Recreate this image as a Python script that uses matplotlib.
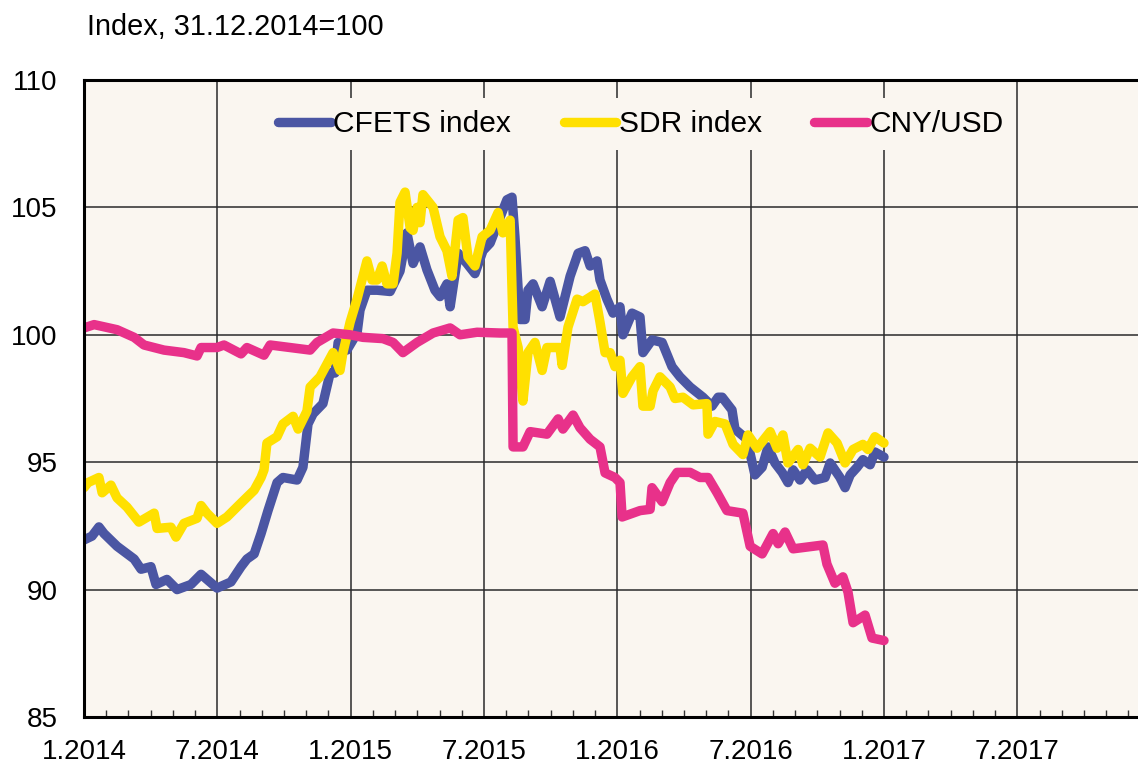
import matplotlib.pyplot as plt
import numpy as np

plt.rcParams['font.family'] = ['Liberation Sans', 'DejaVu Sans']

# time in decimal years, values index 31.12.2014=100
cfets_t = [2014.000, 2014.030, 2014.056, 2014.075, 2014.124, 2014.188, 2014.214, 2014.251,
           2014.270, 2014.311, 2014.349, 2014.401, 2014.439, 2014.461, 2014.499, 2014.551,
           2014.589, 2014.611, 2014.638, 2014.664, 2014.690, 2014.724, 2014.746, 2014.799,
           2014.821, 2014.840, 2014.859, 2014.896, 2014.923, 2014.941, 2014.953, 2014.986,
           2015.024, 2015.035, 2015.061, 2015.099, 2015.148, 2015.185, 2015.211, 2015.234,
           2015.260, 2015.286, 2015.316, 2015.335, 2015.361, 2015.373, 2015.403, 2015.436,
           2015.466, 2015.496, 2015.523, 2015.560, 2015.586, 2015.605, 2015.616, 2015.635,
           2015.654, 2015.665, 2015.684, 2015.718, 2015.748, 2015.785, 2015.823, 2015.853,
           2015.879, 2015.898, 2015.924, 2015.935, 2015.961, 2015.984, 2016.010, 2016.021,
           2016.055, 2016.085, 2016.096, 2016.130, 2016.168, 2016.205, 2016.235, 2016.273,
           2016.321, 2016.355, 2016.378, 2016.393, 2016.430, 2016.441, 2016.486, 2016.516,
           2016.543, 2016.565, 2016.591, 2016.618, 2016.640, 2016.659, 2016.685, 2016.711,
           2016.741, 2016.779, 2016.798, 2016.835, 2016.854, 2016.873, 2016.899, 2016.921,
           2016.948, 2016.966, 2017.000]
cfets_v = [91.95, 92.1, 92.46, 92.2, 91.7, 91.2, 90.8, 90.9,
           90.2, 90.4, 90.0, 90.2, 90.6, 90.4, 90.06, 90.3,
           90.9, 91.2, 91.4, 92.2, 93.1, 94.2, 94.4, 94.3,
           94.8, 96.5, 96.9, 97.3, 98.5, 98.5, 99.7, 99.4,
           100.07, 100.97, 101.75, 101.75, 101.7, 102.5, 104.0, 102.8,
           103.45, 102.55, 101.75, 101.5, 102.0, 101.1, 103.2, 102.8,
           102.4, 103.3, 103.6, 104.6, 105.3, 105.4, 103.85, 100.6,
           100.6, 101.75, 102.0, 101.1, 102.1, 100.7, 102.3, 103.2,
           103.3, 102.7, 102.9, 102.15, 101.4, 100.85, 101.1, 100.0,
           100.85, 100.7, 99.3, 99.8, 99.7, 98.75, 98.35, 97.95,
           97.55, 97.2, 97.55, 97.55, 97.05, 96.3, 95.9, 94.5,
           94.8, 95.6, 94.97, 94.6, 94.2, 94.7, 94.3, 94.7,
           94.3, 94.4, 94.97, 94.4, 94.0, 94.5, 94.8, 95.1,
           94.9, 95.4, 95.2]

sdr_t = [2014.000, 2014.015, 2014.056, 2014.068, 2014.101, 2014.124, 2014.161, 2014.206,
         2014.263, 2014.274, 2014.326, 2014.345, 2014.375, 2014.424, 2014.439, 2014.461,
         2014.499, 2014.536, 2014.589, 2014.638, 2014.664, 2014.675, 2014.686, 2014.724,
         2014.746, 2014.784, 2014.803, 2014.836, 2014.848, 2014.885, 2014.934, 2014.960,
         2014.971, 2014.998, 2015.024, 2015.061, 2015.080, 2015.099, 2015.118, 2015.136,
         2015.159, 2015.174, 2015.185, 2015.204, 2015.223, 2015.234, 2015.249, 2015.260,
         2015.271, 2015.309, 2015.335, 2015.361, 2015.380, 2015.403, 2015.421, 2015.440,
         2015.466, 2015.493, 2015.523, 2015.553, 2015.571, 2015.598, 2015.609, 2015.628,
         2015.646, 2015.665, 2015.691, 2015.718, 2015.736, 2015.785, 2015.793, 2015.815,
         2015.849, 2015.871, 2015.916, 2015.935, 2015.954, 2015.973, 2015.991, 2016.010,
         2016.021, 2016.055, 2016.085, 2016.096, 2016.123, 2016.134, 2016.160, 2016.198,
         2016.216, 2016.246, 2016.284, 2016.336, 2016.340, 2016.366, 2016.404, 2016.434,
         2016.471, 2016.490, 2016.524, 2016.573, 2016.599, 2016.621, 2016.640, 2016.678,
         2016.696, 2016.723, 2016.760, 2016.790, 2016.824, 2016.854, 2016.884, 2016.921,
         2016.940, 2016.966, 2017.000]
sdr_v = [94.0, 94.2, 94.4, 93.8, 94.1, 93.6, 93.24, 92.65,
         93.0, 92.4, 92.45, 92.06, 92.6, 92.8, 93.3, 93.0,
         92.6, 92.85, 93.4, 93.9, 94.4, 94.7, 95.75, 96.0,
         96.5, 96.8, 96.3, 97.0, 97.95, 98.35, 99.3, 98.6,
         99.3, 100.5, 101.4, 102.9, 102.15, 102.15, 102.7, 102.0,
         102.0, 103.2, 105.2, 105.6, 104.2, 104.1, 105.0, 104.4,
         105.5, 105.0, 103.85, 103.3, 102.3, 104.5, 104.6, 103.05,
         102.7, 103.85, 104.1, 104.8, 104.0, 104.5, 100.3, 99.5,
         97.4, 99.3, 99.7, 98.6, 99.5, 99.5, 98.8, 100.3,
         101.4, 101.3, 101.6, 100.5, 99.3, 99.3, 98.75, 99.0,
         97.7, 98.35, 98.75, 97.2, 97.2, 97.8, 98.35, 97.95,
         97.5, 97.55, 97.25, 97.3, 96.1, 96.6, 96.5, 95.7,
         95.3, 96.07, 95.55, 96.2, 95.55, 96.07, 94.97, 95.5,
         94.9, 95.55, 95.2, 96.15, 95.75, 94.97, 95.5, 95.7,
         95.5, 96.0, 95.75]

cny_t = [2014.000, 2014.038, 2014.124, 2014.188, 2014.225, 2014.300, 2014.375, 2014.424,
         2014.439, 2014.499, 2014.525, 2014.589, 2014.611, 2014.675, 2014.698, 2014.773,
         2014.848, 2014.874, 2014.934, 2014.998, 2015.046, 2015.121, 2015.159, 2015.196,
         2015.249, 2015.309, 2015.373, 2015.410, 2015.474, 2015.560, 2015.605, 2015.609,
         2015.646, 2015.673, 2015.736, 2015.778, 2015.796, 2015.834, 2015.860, 2015.898,
         2015.935, 2015.954, 2015.991, 2016.010, 2016.018, 2016.085, 2016.123, 2016.130,
         2016.168, 2016.198, 2016.224, 2016.273, 2016.310, 2016.340, 2016.374, 2016.411,
         2016.471, 2016.498, 2016.543, 2016.584, 2016.603, 2016.629, 2016.659, 2016.771,
         2016.786, 2016.816, 2016.846, 2016.865, 2016.884, 2016.929, 2016.955, 2017.000]
cny_v = [100.27, 100.4, 100.2, 99.9, 99.6, 99.4, 99.3, 99.17,
         99.5, 99.5, 99.6, 99.25, 99.5, 99.2, 99.6, 99.5,
         99.4, 99.7, 100.07, 100.0, 99.9, 99.85, 99.7, 99.3,
         99.7, 100.07, 100.27, 100.0, 100.1, 100.07, 100.07, 95.6,
         95.6, 96.2, 96.1, 96.7, 96.3, 96.85, 96.35, 95.9,
         95.6, 94.58, 94.4, 94.2, 92.85, 93.1, 93.15, 94.0,
         93.45, 94.2, 94.6, 94.6, 94.4, 94.4, 93.8, 93.1,
         93.0, 91.7, 91.4, 92.2, 91.8, 92.26, 91.6, 91.75,
         91.0, 90.25, 90.5, 89.9, 88.7, 89.0, 88.1, 88.0]

x_major = [2014.0, 2014.5, 2015.0, 2015.5, 2016.0, 2016.5, 2017.0, 2017.5]
x_labels = ['1.2014', '7.2014', '1.2015', '7.2015', '1.2016', '7.2016', '1.2017', '7.2017']
y_major = [85, 90, 95, 100, 105, 110]

bg = '#faf6f0'
fig = plt.figure(figsize=(11.38, 7.63), dpi=100)
ax = fig.add_axes([84/1138, 1 - 717/763, 1 - 84/1138, (717 - 80)/763])
ax.set_facecolor(bg)

style = dict(lw=6.8, solid_capstyle='round', solid_joinstyle='round')
ax.plot(cfets_t, cfets_v, color='#4b56a3', label='CFETS index', **style)
ax.plot(sdr_t, sdr_v, color='#ffe000', label='SDR index', **style)
ax.plot(cny_t, cny_v, color='#e8318a', label='CNY/USD', **style)

ax.set_xlim(2014.0, 2014.0 + (1138 - 84)/(800/3))
ax.set_ylim(85, 110)
ax.set_xticks(x_major)
ax.set_xticklabels(x_labels)
ax.set_xticks(np.arange(2014.0, 2018.0, 1/12), minor=True)
ax.set_yticks(y_major)
ax.grid(True, which='major', color='#2a2a2a', lw=1.1)
ax.set_axisbelow(True)

ax.tick_params(axis='both', which='major', length=0, labelsize=20)
ax.tick_params(axis='x', which='major', pad=16)
ax.tick_params(axis='y', which='major', pad=19)
ax.tick_params(axis='x', which='minor', direction='in', length=5, width=1, color='#333333')

for s in ['left', 'top', 'bottom']:
    ax.spines[s].set_linewidth(2.2)
ax.spines['right'].set_visible(False)

fig.text(87/1138, 1 - 27/763, 'Index, 31.12.2014=100', fontsize=20.8, va='center', ha='left')

leg = ax.legend(loc='center', bbox_to_anchor=(641/1138, 1 - 124/763),
                bbox_transform=fig.transFigure, ncol=3, fontsize=21.5,
                handlelength=1.75, handletextpad=0.1, columnspacing=1.75,
                frameon=True, facecolor=bg, edgecolor='none', framealpha=1,
                borderpad=0.4, fancybox=False)
for line in leg.get_lines():
    line.set_linewidth(6.8)

fig.savefig('out.png', dpi=100)
